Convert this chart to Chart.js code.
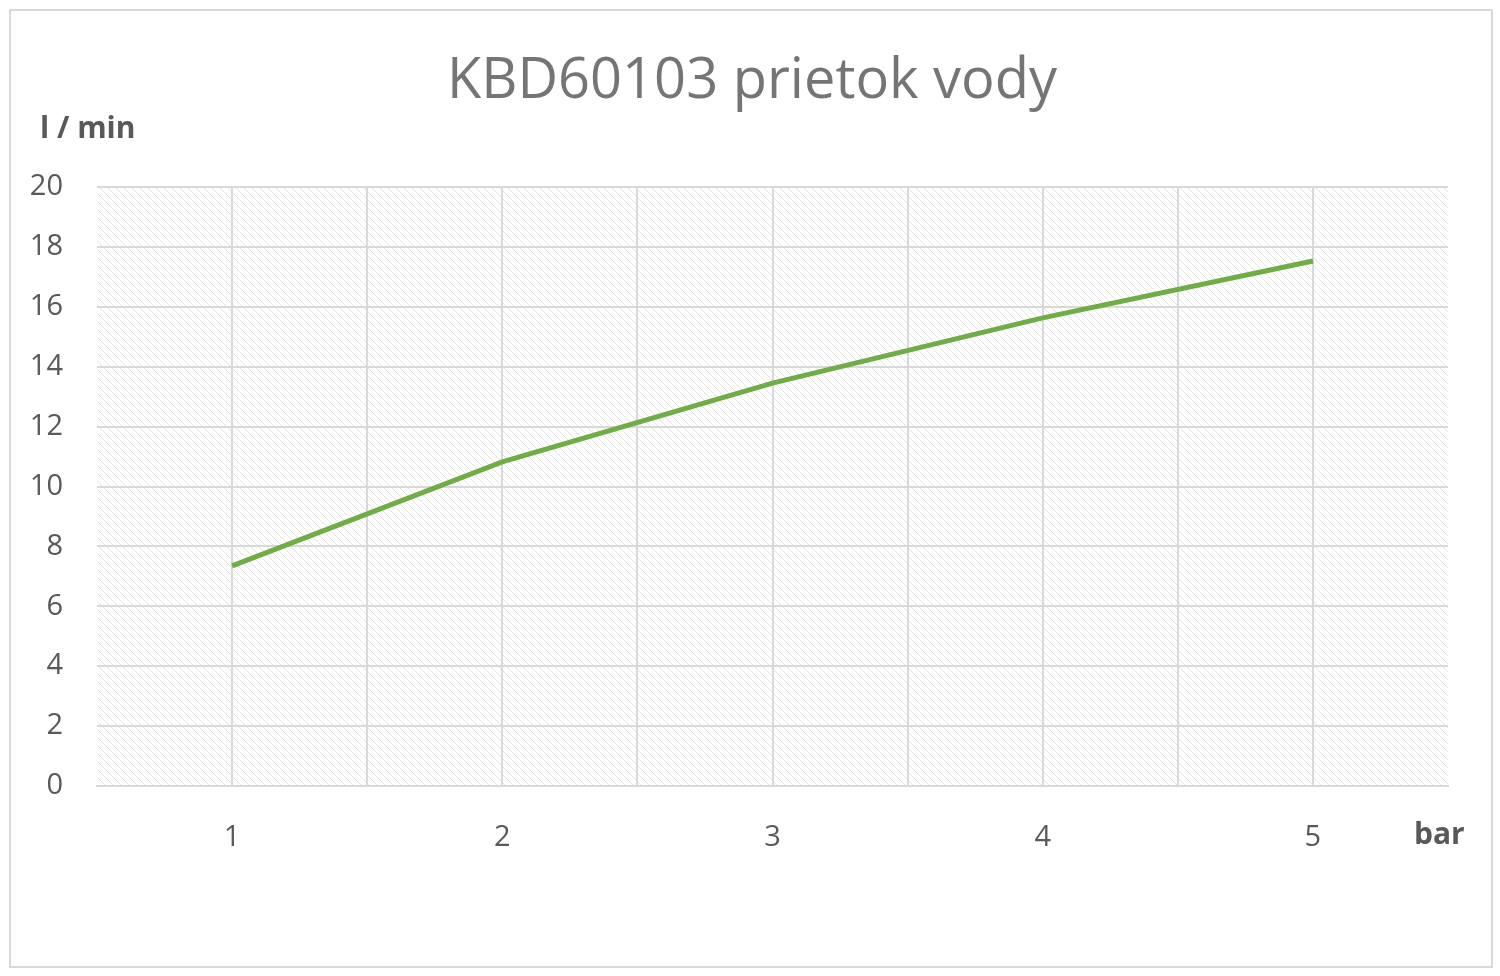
<!DOCTYPE html>
<html><head><meta charset="utf-8">
<script src="https://cdn.jsdelivr.net/npm/chart.js@4"></script>
<style>html,body{margin:0;padding:0;background:#fff}#w{width:1500px;height:976px}</style>
</head><body><div id="w"><canvas id="c"></canvas></div>
<script>
const pressures = [1, 2, 3, 4, 5];
const flows = [7.35, 10.82, 13.45, 15.63, 17.53];
const yTicks = [0, 2, 4, 6, 8, 10, 12, 14, 16, 18, 20];
const titleText = 'KBD60103 prietok vody';
const yLabel = 'l / min';
const xLabel = 'bar';

const pc = document.createElement('canvas'); pc.width = 8; pc.height = 8;
const p = pc.getContext('2d');
p.fillStyle = '#ffffff'; p.fillRect(0,0,8,8);
p.strokeStyle = '#e2e2e2'; p.lineWidth = 1;
p.beginPath(); p.moveTo(0,0); p.lineTo(8,8); p.moveTo(-4,4); p.lineTo(4,12); p.moveTo(4,-4); p.lineTo(12,4); p.stroke();

const deco = {
  id:'deco',
  beforeDraw(ch){
    const c = ch.ctx, a = ch.chartArea;
    c.save();
    c.fillStyle='#fff'; c.fillRect(0,0,ch.width,ch.height);
    c.strokeStyle='#d9d9d9'; c.lineWidth=2; c.strokeRect(10,10,1482,957);
    c.fillStyle=c.createPattern(pc,'repeat'); c.fillRect(a.left,a.top,a.right-a.left,a.bottom-a.top);
    c.restore();
  },
  afterDraw(ch){
    const c = ch.ctx; c.save();
    c.fillStyle='#757575'; c.font='56px "Open Sans", sans-serif'; c.textAlign='center'; c.textBaseline='middle';
    c.fillText(titleText, 752, 82);
    c.fillStyle='#595959'; c.font='bold 30px "Open Sans", sans-serif'; c.textAlign='left';
    c.fillText(yLabel, 40, 129);
    c.fillText(xLabel, 1414, 835);
    c.restore();
  }
};

new Chart(document.getElementById('c'), {
  type:'line',
  data:{datasets:[{data:pressures.map((x,i)=>({x, y:flows[i]})), borderColor:'#70ad47', borderWidth:5, pointRadius:0, tension:0, fill:false}]},
  options:{
    responsive:true, maintainAspectRatio:false, animation:false,
    layout:{padding:{top:187, right:52, left:0, bottom:0}},
    plugins:{legend:{display:false}, tooltip:{enabled:false}, title:{display:false}},
    scales:{
      x:{type:'linear', min:0.5, max:5.5,
        afterBuildTicks(s){ s.ticks=[0.5,1,1.5,2,2.5,3,3.5,4,4.5,5,5.5].map(v=>({value:v})); },
        afterFit(s){ s.height=190; },
        grid:{color:(ctx)=>(ctx.tick&&(ctx.tick.value===0.5||ctx.tick.value===5.5))?'rgba(0,0,0,0)':'#d9d9d9', lineWidth:2, drawTicks:false},
        border:{display:true, color:'#d9d9d9', width:2},
        ticks:{padding:34, color:'#595959', font:{size:29, family:'"Open Sans", sans-serif'}, maxRotation:0, autoSkip:false,
          callback:v=>Number.isInteger(v)?String(v):''}
      },
      y:{min:0, max:20,
        afterBuildTicks(s){ s.ticks=yTicks.map(v=>({value:v})); },
        afterFit(s){ s.width=97; },
        grid:{color:'#d9d9d9', lineWidth:2, drawTicks:false},
        border:{display:false},
        ticks:{padding:34, color:'#595959', font:{size:29, family:'"Open Sans", sans-serif'}}
      }
    }
  },
  plugins:[deco]
});
</script></body></html>
